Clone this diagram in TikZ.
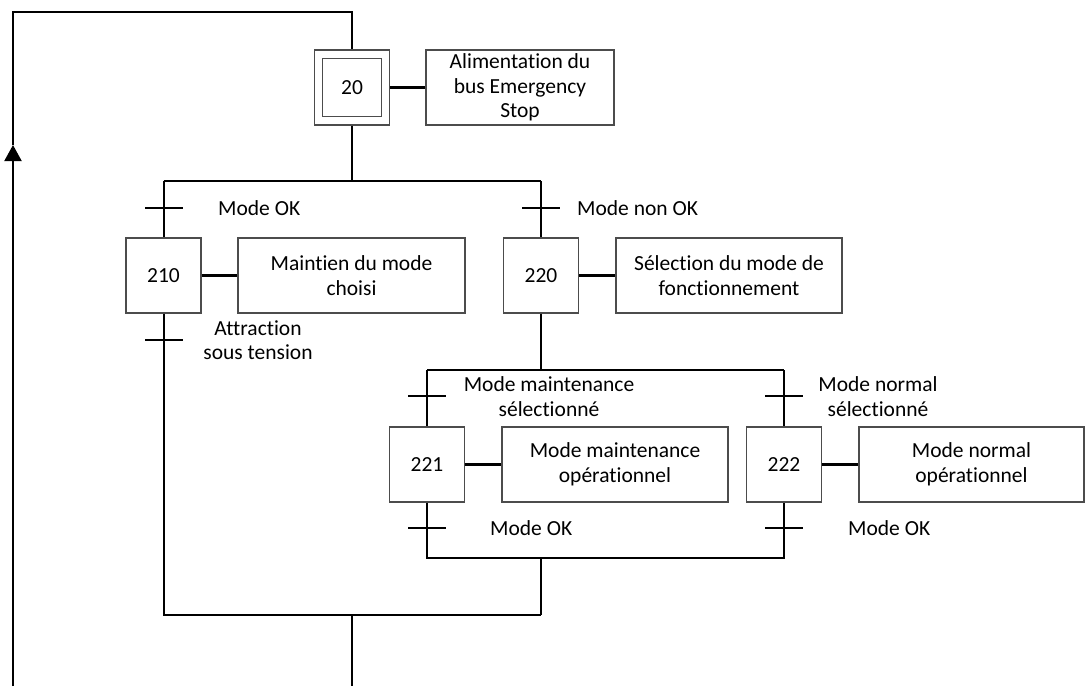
\documentclass[tikz,border=0pt]{standalone}
\usepackage{fontspec}
\setmainfont{Carlito}[Ligatures=NoCommon]
\usetikzlibrary{arrows.meta}
\begin{document}
\begin{tikzpicture}[x=1pt,y=-1pt,
  txt/.style={font=\fontsize{21.5}{24.6}\selectfont},
  stepbox/.style={txt,draw=black!70,line width=1.3pt,minimum width=75pt,minimum height=75pt,inner sep=0pt},
  innerbox/.style={txt,draw=black!70,line width=1.3pt,minimum width=59pt,minimum height=58pt,inner sep=0pt},
  actbox/.style={txt,draw=black!70,line width=1.3pt,minimum height=75pt,align=center,inner sep=0pt},
  lbl/.style={txt,align=center,inner sep=0pt},
  trbar/.style={fill=black,minimum width=38pt,minimum height=2pt,inner sep=0pt,outer sep=0pt},
  ln/.style={line width=2pt},
  lnk/.style={line width=3pt}]
\useasboundingbox (0,0) rectangle (1085,686);

% steps
\node[stepbox] (s20) at (352,87.5) {};
\node[innerbox] (s20i) at (352,87.5) {20};
\node[stepbox] (s210) at (163.5,275.5) {210};
\node[stepbox] (s220) at (541,275.5) {220};
\node[stepbox] (s221) at (427,464.5) {221};
\node[stepbox] (s222) at (784,464.5) {222};

% actions
\node[actbox,minimum width=188pt] (a20) at (520,87.5) {Alimentation du\\bus Emergency\\Stop};
\node[actbox,minimum width=227pt] (a210) at (351.5,275.5) {Maintien du mode\\choisi};
\node[actbox,minimum width=226pt] (a220) at (729,275.5) {S\'election du mode de\\fonctionnement};
\node[actbox,minimum width=226pt] (a221) at (615,464.5) {Mode maintenance\\op\'erationnel};
\node[actbox,minimum width=225pt] (a222) at (971.5,464.5) {Mode normal\\op\'erationnel};

\draw[lnk] (s20.east) -- (a20.west);
\draw[lnk] (s210.east) -- (a210.west);
\draw[lnk] (s220.east) -- (a220.west);
\draw[lnk] (s221.east) -- (a221.west);
\draw[lnk] (s222.east) -- (a222.west);

% junction coordinates
\coordinate (d1) at (352,181);
\coordinate (d1l) at (163.5,181);
\coordinate (d1r) at (541,181);
\coordinate (d2) at (541,370);
\coordinate (d2l) at (427,370);
\coordinate (d2r) at (784,370);
\coordinate (c2l) at (427,558);
\coordinate (c2r) at (784,558);
\coordinate (c2) at (541,558);
\coordinate (c1l) at (163.5,615);
\coordinate (c1r) at (541,615);
\coordinate (c1) at (352,615);
\coordinate (bot) at (352,686);
\coordinate (lb) at (13,686);
\coordinate (lt) at (13,12);
\coordinate (rt) at (352,12);
\coordinate (arr) at (13,145);

% transitions
\node[trbar] (t1) at (163.5,208) {};
\node[trbar] (t2) at (541,208) {};
\node[trbar] (t3) at (163.5,340) {};
\node[trbar] (t4) at (427,396) {};
\node[trbar] (t5) at (784,396) {};
\node[trbar] (t6) at (427,528) {};
\node[trbar] (t7) at (784,528) {};

% transition labels
\node[lbl,anchor=west] (l1) at (218,208) {Mode OK};
\node[lbl,anchor=west] (l2) at (577,208) {Mode non OK};
\node[lbl] (l3) at (258,340) {Attraction\\sous tension};
\node[lbl] (l4) at (549,396.5) {Mode maintenance\\s\'electionn\'e};
\node[lbl] (l5) at (878,396.5) {Mode normal\\s\'electionn\'e};
\node[lbl,anchor=west] (l6) at (490,528) {Mode OK};
\node[lbl,anchor=west] (l7) at (848,528) {Mode OK};

% links
\draw[ln] (s20.south) -- (d1);
\draw[ln] (d1l) -- (d1r);
\draw[ln] (d1l) -- (s210.north);
\draw[ln] (d1r) -- (s220.north);
\draw[ln] (s220.south) -- (d2);
\draw[ln] (d2l) -- (d2r);
\draw[ln] (d2l) -- (s221.north);
\draw[ln] (d2r) -- (s222.north);
\draw[ln] (s221.south) -- (c2l) -- (c2r) -- (s222.south);
\draw[ln] (c2) -- (c1r);
\draw[ln] (s210.south) -- (c1l) -- (c1r);
\draw[ln] (c1) -- (bot);
\draw[ln,-{Triangle[length=16pt,width=17pt]}] (lb) -- (arr);
\draw[ln] (arr) -- (lt) -- (rt) -- (s20.north);
\end{tikzpicture}
\end{document}
